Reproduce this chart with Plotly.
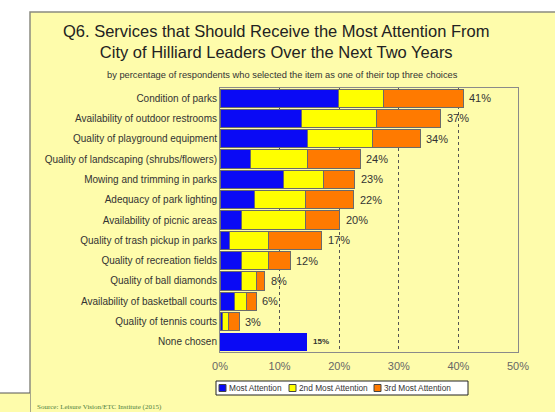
import plotly.graph_objects as go

categories = [
    "Condition of parks",
    "Availability of outdoor restrooms",
    "Quality of playground equipment",
    "Quality of landscaping (shrubs/flowers)",
    "Mowing and trimming in parks",
    "Adequacy of park lighting",
    "Availability of picnic areas",
    "Quality of trash pickup in parks",
    "Quality of recreation fields",
    "Quality of ball diamonds",
    "Availability of basketball courts",
    "Quality of tennis courts",
    "None chosen",
]
most = [19.8, 13.7, 14.7, 5.1, 10.6, 5.8, 3.6, 1.6, 3.6, 3.6, 2.5, 0.4, 14.6]
second = [7.6, 12.6, 10.9, 9.6, 6.7, 8.6, 10.7, 6.5, 4.5, 2.5, 1.9, 1.0, 0]
third = [13.4, 10.7, 8.0, 8.8, 5.3, 8.0, 5.8, 9.0, 3.7, 1.4, 1.7, 1.8, 0]
totals = [41, 37, 34, 24, 23, 22, 20, 17, 12, 8, 6, 3, 15]
series_names = ["Most Attention", "2nd Most Attention", "3rd Most Attention"]
x_ticks = [0, 10, 20, 30, 40, 50]
x_tick_labels = ["0%", "10%", "20%", "30%", "40%", "50%"]

W, H = 555, 412
L, R, T, B = 220, 518, 88, 352
FONT = "Liberation Sans, Arial"


def px(x):
    return (x - L) / (R - L)


def py(y):
    return (B - y) / (B - T)


colors = ["#0a0af5", "#ffff00", "#ff7a00"]
fig = go.Figure()
line_w = [1] * 12 + [0]
for name, vals, col in zip(series_names, [most, second, third], colors):
    fig.add_trace(go.Bar(
        y=categories, x=vals, name=name, orientation="h", showlegend=False,
        marker=dict(color=col, line=dict(color="#6a6a6a", width=line_w)),
    ))

bar_ends = [a + b + c for a, b, c in zip(most, second, third)]
annotations = []
for i, (cat, end, tot) in enumerate(zip(categories, bar_ends, totals)):
    last = i == len(categories) - 1
    annotations.append(dict(
        x=end, y=cat, xref="x", yref="y", xanchor="left", yanchor="middle",
        xshift=4, showarrow=False,
        text=f"<b>{tot}%</b>" if last else f"{tot}%",
        font=dict(size=8 if last else 11, color="#333333", family=FONT),
    ))

shapes = [
    # yellow panel
    dict(type="rect", xref="paper", yref="paper", x0=px(30), x1=px(560), y0=py(420), y1=py(12),
         fillcolor="#fefcab", line=dict(color="#8a8a80", width=1.5), layer="below"),
    dict(type="rect", xref="paper", yref="paper", x0=px(-5), x1=px(30), y0=py(420), y1=py(393),
         fillcolor="#fefcab", line=dict(width=0), layer="below"),
    dict(type="line", xref="paper", yref="paper", x0=px(0), x1=px(30), y0=py(393), y1=py(393),
         line=dict(color="#555555", width=1), layer="below"),
    # legend box
    dict(type="rect", xref="paper", yref="paper", x0=px(216), x1=px(468), y0=py(395), y1=py(381),
         fillcolor="white", line=dict(color="#222222", width=1)),
]

# custom legend entries
leg_sq_x = [219, 289, 374]
leg_txt_x = [227, 297, 382]
for name, col, sx, tx in zip(series_names, colors, leg_sq_x, leg_txt_x):
    shapes.append(dict(type="rect", xref="paper", yref="paper", x0=px(sx), x1=px(sx + 7),
                       y0=py(391.5), y1=py(384.5), fillcolor=col,
                       line=dict(color="#444444", width=1)))
    annotations.append(dict(text=name, xref="paper", yref="paper", x=px(tx), y=py(388),
                            xanchor="left", yanchor="middle", showarrow=False,
                            font=dict(size=8.3, color="#333333", family=FONT)))

annotations += [
    dict(text="Q6. Services that Should Receive the Most Attention From<br>City of Hilliard Leaders Over the Next Two Years",
         xref="paper", yref="paper", x=px(276), y=py(42), xanchor="center", yanchor="middle",
         showarrow=False, font=dict(size=16.5, color="#222222", family=FONT)),
    dict(text="by percentage of respondents who selected the item as one of their top three choices",
         xref="paper", yref="paper", x=px(282), y=py(75), xanchor="center", yanchor="middle",
         showarrow=False, font=dict(size=9.3, color="#333333", family=FONT)),
    dict(text="Source: Leisure Vision/ETC Institute (2015)",
         xref="paper", yref="paper", x=px(35), y=py(407), xanchor="left", yanchor="middle",
         showarrow=False, font=dict(size=7, color="#4f7f3f", family="Liberation Serif, Times New Roman")),
]

fig.update_layout(
    width=W, height=H,
    margin=dict(l=L, r=W - R, t=T, b=H - B, autoexpand=False),
    barmode="stack", bargap=0.1, showlegend=False,
    paper_bgcolor="white", plot_bgcolor="white",
    font=dict(family=FONT, color="#333333"),
    shapes=shapes, annotations=annotations,
    xaxis=dict(range=[0, 50], tickvals=x_ticks, ticktext=x_tick_labels, automargin=False,
               showgrid=True, gridcolor="#555555", griddash="dot", gridwidth=1,
               tickfont=dict(size=11, color="#666666"), ticks="", ticklabelstandoff=4,
               showline=True, linecolor="#8a8a8a", mirror=True, zeroline=False),
    yaxis=dict(autorange="reversed", tickfont=dict(size=10, color="#333333"), automargin=False,
               showline=True, linecolor="#8a8a8a", mirror=True, ticks="", ticklen=0),
)

fig.write_html("out.html", config={"displayModeBar": False},
               post_script="document.body.style.margin='0';")
